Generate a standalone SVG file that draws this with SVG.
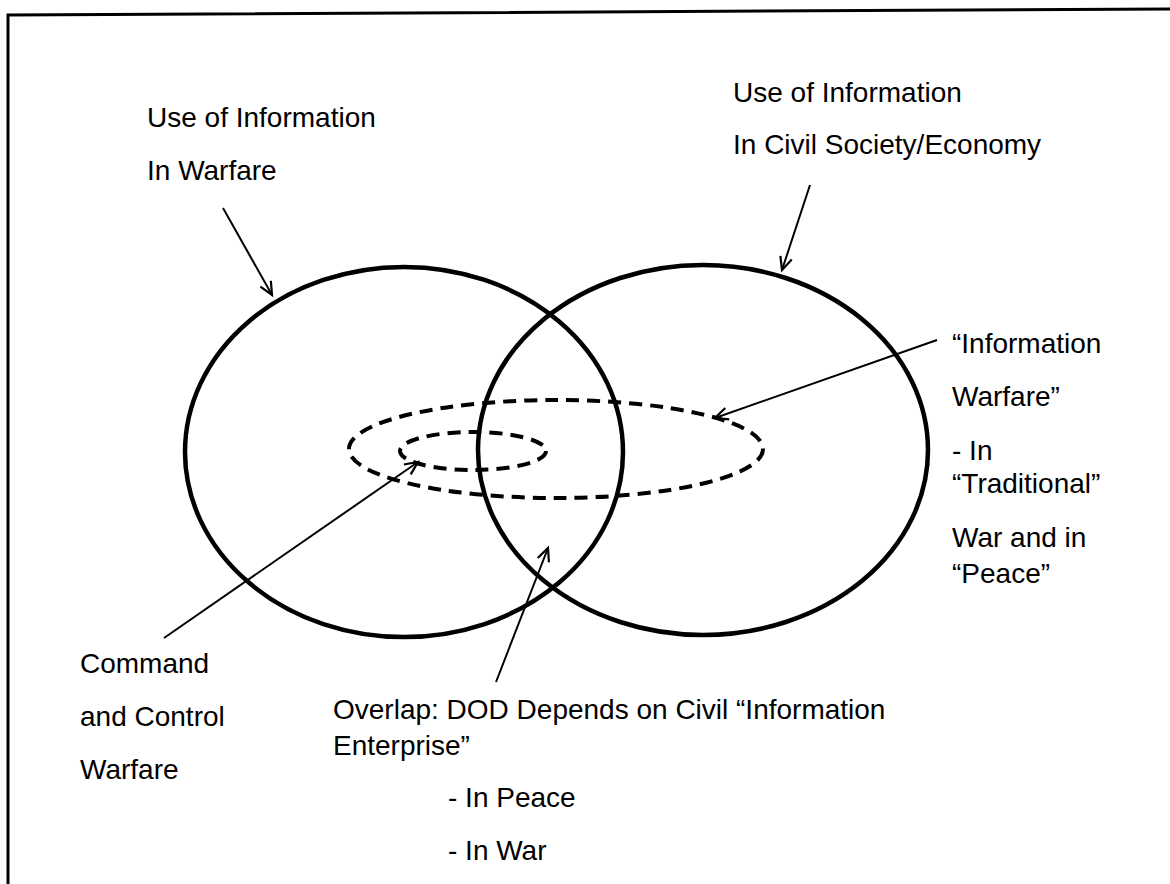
<svg xmlns="http://www.w3.org/2000/svg" width="1170" height="884" viewBox="0 0 1170 884">
<style>
text{font-family:"Liberation Sans",Arial,sans-serif;font-size:28px;fill:#000}
.circ{fill:none;stroke:#000;stroke-width:4.5}
.dash{fill:none;stroke:#000;stroke-width:4;stroke-dasharray:13 8}
.arr{fill:none;stroke:#000;stroke-width:2;marker-end:url(#ah)}
</style>
<defs>
<marker id="ah" markerUnits="userSpaceOnUse" markerWidth="20" markerHeight="20" refX="14" refY="10" orient="auto" viewBox="0 0 20 20">
<path d="M1,4 L14,10 L1,16" fill="none" stroke="#000" stroke-width="2.2"/>
</marker>
</defs>
<rect width="1170" height="884" fill="#fff"/>
<g id="frame">
<path d="M8,884 L8,15 L1170,9" fill="none" stroke="#000" stroke-width="3"/>
</g>
<g id="warfare-circle">
<ellipse class="circ" cx="404" cy="452" rx="219" ry="185"/>
</g>
<g id="civil-circle">
<ellipse class="circ" cx="703" cy="450" rx="225" ry="185"/>
</g>
<g id="info-warfare-ellipse">
<ellipse class="dash" cx="556" cy="449" rx="207" ry="49"/>
</g>
<g id="c2w-ellipse">
<ellipse class="dash" cx="473" cy="451" rx="73" ry="19"/>
</g>
<g id="connectors">
<line class="arr" x1="223" y1="208" x2="272" y2="295"/>
<line class="arr" x1="810" y1="185" x2="782" y2="270"/>
<line class="arr" x1="937" y1="340" x2="715" y2="418"/>
<line class="arr" x1="164" y1="638" x2="418" y2="462"/>
<line class="arr" x1="496" y1="682" x2="548" y2="548"/>
</g>
<g id="label-warfare">
<text x="147" y="127">Use of Information</text>
<text x="147" y="180">In Warfare</text>
</g>
<g id="label-civil">
<text x="733" y="102">Use of Information</text>
<text x="733" y="154">In Civil Society/Economy</text>
</g>
<g id="label-info-warfare">
<text x="952" y="353">“Information</text>
<text x="952" y="406">Warfare”</text>
<text x="952" y="460">- In</text>
<text x="952" y="493">“Traditional”</text>
<text x="952" y="547">War and in</text>
<text x="952" y="583">“Peace”</text>
</g>
<g id="label-c2w">
<text x="80" y="673">Command</text>
<text x="80" y="726">and Control</text>
<text x="80" y="779">Warfare</text>
</g>
<g id="label-overlap">
<text x="333" y="719">Overlap: DOD Depends on Civil “Information</text>
<text x="333" y="755">Enterprise”</text>
<text x="448" y="807">- In Peace</text>
<text x="448" y="860">- In War</text>
</g>
</svg>
